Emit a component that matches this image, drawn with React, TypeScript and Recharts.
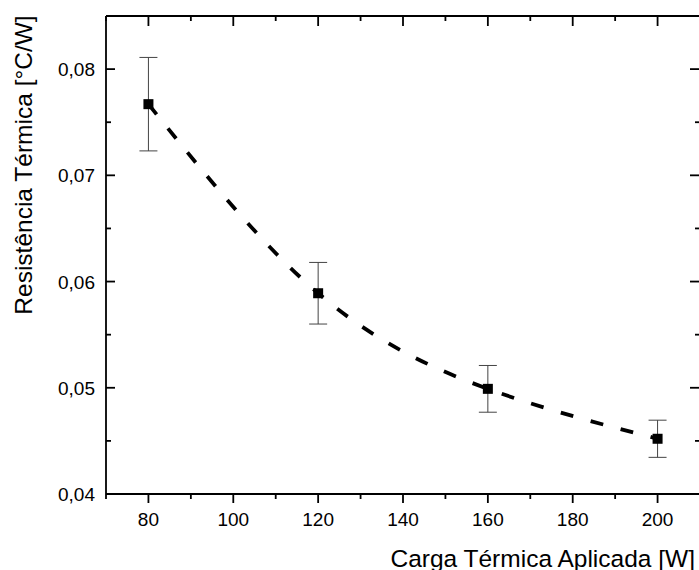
import { ComposedChart, Line, Scatter, XAxis, YAxis, ErrorBar } from "recharts";

// Carga térmica aplicada [W]
const cargas = [80, 120, 160, 200];
// Resistência térmica [°C/W]
const resistencias = [0.0767, 0.0589, 0.0499, 0.0452];
// desvio (barra de erro)
const erros = [0.0044, 0.0029, 0.0022, 0.00175];

const xTicks = [70, 80, 90, 100, 110, 120, 130, 140, 150, 160, 170, 180, 190, 200, 210];
const yTicks = [0.04, 0.045, 0.05, 0.055, 0.06, 0.065, 0.07, 0.075, 0.08, 0.085];

const data = cargas.map((x, i) => ({ x, y: resistencias[i], err: erros[i] }));

const FONT = '"Liberation Sans", Arial, sans-serif';

const isMajorX = (v: number) => v % 20 === 0;
const isMajorY = (v: number) => Math.abs(v * 100 - Math.round(v * 100)) < 1e-6;

// ticks: bottom outward, the other three sides inward (Origin style)
const BottomTick = (props: any) => {
  const { x, y, payload } = props;
  const major = isMajorX(payload.value);
  return (
    <g>
      <path d={`M${x},${y}V${y + (major ? 9 : 5)}`} stroke="#000" strokeWidth={1.8} fill="none" />
      {major && (
        <text x={x} y={y + 32} textAnchor="middle" fontSize={19} fontFamily={FONT} fill="#000">
          {payload.value}
        </text>
      )}
    </g>
  );
};

const TopTick = (props: any) => {
  const { x, y, payload } = props;
  const major = isMajorX(payload.value);
  return <path d={`M${x},${y}V${y + (major ? 10 : 5)}`} stroke="#000" strokeWidth={1.8} fill="none" />;
};

const LeftTick = (props: any) => {
  const { x, y, payload } = props;
  const major = isMajorY(payload.value);
  return (
    <g>
      <path d={`M${x},${y}H${x + (major ? 9 : 5)}`} stroke="#000" strokeWidth={1.8} fill="none" />
      {major && (
        <text x={x - 11} y={y + 7} textAnchor="end" fontSize={19} fontFamily={FONT} fill="#000">
          {payload.value.toFixed(2).replace(".", ",")}
        </text>
      )}
    </g>
  );
};

const RightTick = (props: any) => {
  const { x, y, payload } = props;
  const major = isMajorY(payload.value);
  return <path d={`M${x - (major ? 10 : 5)},${y}H${x}`} stroke="#000" strokeWidth={1.8} fill="none" />;
};

const Square = (p: any) => <rect x={p.cx - 5} y={p.cy - 5} width={10} height={10} fill="#000" />;

const axisLine = { stroke: "#000", strokeWidth: 1.8 };

export default function App() {
  return (
    <div style={{ position: "absolute", left: 0, top: 0, width: 699, height: 570, overflow: "hidden", background: "#fff" }}>
      <ComposedChart width={702} height={570} data={data} margin={{ top: 15, right: 1, bottom: 0, left: 0 }}>
        <XAxis
          dataKey="x"
          type="number"
          domain={[70, 210]}
          ticks={xTicks}
          interval={0}
          allowDataOverflow
          height={76}
          tickSize={0}
          tickMargin={0}
          tickLine={false}
          axisLine={axisLine}
          tick={BottomTick}
          label={{
            content: () => (
              <text x={695} y={567} textAnchor="end" fontSize={24.5} fontFamily={FONT} fill="#000">
                Carga Térmica Aplicada [W]
              </text>
            ),
          }}
        />
        <XAxis
          xAxisId="top"
          orientation="top"
          dataKey="x"
          type="number"
          domain={[70, 210]}
          ticks={xTicks}
          interval={0}
          allowDataOverflow
          height={1}
          tickSize={0}
          tickMargin={0}
          tickLine={false}
          axisLine={axisLine}
          tick={TopTick}
        />
        <YAxis
          type="number"
          domain={[0.04, 0.085]}
          ticks={yTicks}
          interval={0}
          allowDataOverflow
          width={106}
          tickSize={0}
          tickMargin={0}
          tickLine={false}
          axisLine={axisLine}
          tick={LeftTick}
          label={{
            content: () => (
              <text
                x={32}
                y={165}
                textAnchor="middle"
                fontSize={24.5}
                fontFamily={FONT}
                fill="#000"
                transform="rotate(-90, 32, 165)"
              >
                Resistência Térmica [°C/W]
              </text>
            ),
          }}
        />
        <YAxis
          yAxisId="right"
          orientation="right"
          type="number"
          domain={[0.04, 0.085]}
          ticks={yTicks}
          interval={0}
          allowDataOverflow
          width={1}
          tickSize={0}
          tickMargin={0}
          tickLine={false}
          axisLine={axisLine}
          tick={RightTick}
        />
        {/* same domains on top/right, so the fit curve can live on those axes */}
        <Line
          xAxisId="top"
          yAxisId="right"
          dataKey="y"
          type="natural"
          stroke="#000"
          strokeWidth={3.8}
          strokeDasharray="13 18"
          dot={false}
          activeDot={false}
          isAnimationActive={false}
        />
        <Scatter dataKey="y" shape={Square} isAnimationActive={false}>
          <ErrorBar dataKey="err" direction="y" width={9} stroke="#444" strokeWidth={1} />
        </Scatter>
      </ComposedChart>
    </div>
  );
}
